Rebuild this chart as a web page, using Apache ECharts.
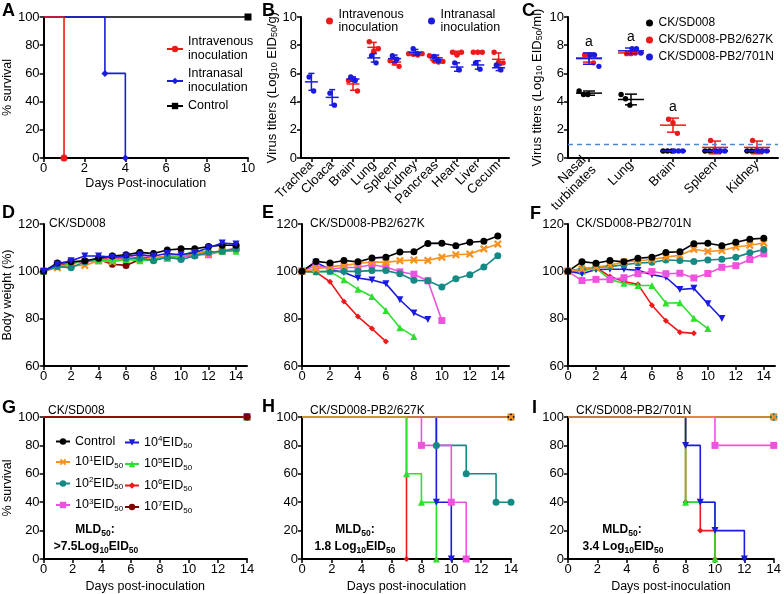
<!DOCTYPE html>
<html><head><meta charset="utf-8">
<script src="https://cdn.jsdelivr.net/npm/echarts@6/dist/echarts.min.js"></script>
<style>html,body{margin:0;padding:0;background:#fff}#c{width:784px;height:594px}</style>
</head><body><div id="c"></div>
<script>
// ---------------- DATA ----------------
// Panel A: survival change points [day, %]
const aIntravenous = [[0,100],[1,0]];
const aIntranasal  = [[0,100],[3,60],[4,0]];
const aControl     = [[0,100],[10,100]];
const aDayTicks = [0,2,4,6,8,10];

// Panel B: virus titers (log10 EID50/g)
const bCats = ['Trachea','Cloaca','Brain','Lung','Spleen','Kidney','Pancreas','Heart','Liver','Cecum'];
const bIVPts  = [null,null,[5.5,5.6,4.75],[8.25,7.6,7.75],[6.9,6.75,6.5],[7.4,7.35,7.3,7.4],[7.25,6.9,6.8,6.85],[7.5,7.3,7.5],[7.5,7.5,7.5],[7.5,6.8,6.75]];
const bIVMean = [null,null,5.25,7.85,6.8,7.4,6.95,7.45,7.5,7.0];
const bIVErr  = [null,null,0.45,0.35,0.2,0.08,0.2,0.12,0.03,0.45];
const bINPts  = [[5.75,4.75],[4.6,3.75],[5.75,5.5],[7.25,6.75],[7.25,7.0],[7.75,7.4],[7.2,6.9],[6.75,6.25],[6.75,6.3],[6.6,6.25]];
const bINMean = [5.4,4.3,5.6,7.1,7.05,7.5,7.1,6.45,6.6,6.4];
const bINErr  = [0.6,0.55,0.15,0.3,0.25,0.2,0.2,0.3,0.3,0.2];

// Panel C: virus titers (log10 EID50/ml)
const cCats = ['Nasal\nturbinates','Lung','Brain','Spleen','Kidney'];
const cWtPts   = [[4.75,4.5,4.5],[4.5,4.2,3.75],[0.5,0.5,0.5],[0.5,0.5,0.5],[0.5,0.5,0.5]];
const cWtMean  = [4.6,4.15,0.5,0.5,0.5];
const cWtErr   = [0.15,0.38,0,0,0];
const c627Pts  = [[7.3,7.3,6.75],[7.4,7.4,7.45],[2.75,2.5,1.75],[1.25,0.5,0.5],[1.25,0.5,0.5]];
const c627Mean = [7.1,7.45,2.33,0.75,0.75];
const c627Err  = [0.3,0.1,0.5,0.45,0.45];
const c701Pts  = [[7.3,7.3,6.5],[7.75,7.75,7.45],[0.5,0.5,0.5],[0.5,0.5,0.5],[0.5,0.5,0.5]];
const c701Mean = [7.05,7.6,0.5,0.5,0.5];
const c701Err  = [0.4,0.2,0,0,0];
const cSig     = ['a','a','a','',''];
const cDetectionLimit = 1;

// Panels D/E/F: body weight (%) by day 0..n
const dCtl  = [100,103.5,104,104.5,105.5,106.5,107,108,107.5,109,109.5,109.5,110.5,111,111];
const d10_1 = [100,101.5,102.5,102.5,104.5,104,105,105,105.5,106.5,106.5,108,107.5,108.5,109.5];
const d10_2 = [100,102,101.5,104,105.5,106.5,105.5,105.5,104.5,106,105,106.5,108,108.5,109.5];
const d10_3 = [100,103,104,104,104.5,105.5,106,107,106,105.5,106,107,107,108.5,110];
const d10_4 = [100,103,104.5,106.5,106.5,106,106.5,107,106.5,107.5,107,108,110,112,111.5];
const d10_5 = [100,102,103,105,104.5,104.5,105,104.5,105,106,106,109,108,108.5,108.5];
const d10_6 = [100,102.5,103.5,104,105,105.5,105,106,105.5,106.5,106,107.5,107.5,108.5,109];
const d10_7 = [100,103,104,104,105,103,102.5,105,105,106,106,107,108,108.5,109];

const eCtl  = [100,104.2,103.5,104.6,104,105.6,106,108.2,108.3,111.8,111.9,110.8,112.3,112.7,114.9];
const e10_1 = [100,101,102,102.5,103.3,104,103.8,104.5,104.8,104.6,106,107,107.3,109.5,111.5];
const e10_2 = [100,99.8,100,100,100,100.3,100.3,99,96.2,96,93.4,96.9,98.6,101.8,106.6];
const e10_3 = [100,102.5,101,101.5,101.7,102.8,101.8,99.8,98.8,96,79.2];
const e10_4 = [100,103.8,100.8,99.5,97.2,96.3,94.8,88,82.4,79.6];
const e10_5 = [100,99.8,100,96.4,92.4,89.4,83.5,76.2,72.5];
const e10_6 = [100,99.7,95.6,87.3,80.9,75.8,70.3];

const fCtl  = [100,104.1,103.4,104.6,104,105.5,106,108,108.3,111.7,111.9,110.8,112.3,113.6,114];
const f10_1 = [100,101,101.8,102.6,104,104.5,105,106,106.8,109.3,108.4,108.8,110.3,111,112];
const f10_2 = [100,101.2,101.7,102,102.8,103.5,103.8,104.8,104.6,104.2,104.8,105.1,106,107.8,109.2];
const f10_3 = [100,96.1,96.6,96.6,97.3,99,99.9,99,99.2,97.2,99.1,101.7,102.4,105,107.4];
const f10_4 = [100,99,100.8,100.9,100.9,100.4,98.6,97.5,92.3,92.8,86.3,80.1];
const f10_5 = [100,100,101.5,96.5,95,94,94,86.6,86.7,80.2,75.8];
const f10_6 = [100,100.5,101.6,97.8,95.7,94.5,85.7,79.1,74.3,73.8];
const dayTicks14 = [0,2,4,6,8,10,12,14];

// Panels G/H/I: survival change points [day, %]
const gAll  = [[0,100],[14,100]];
const hCtl  = [[0,100],[14,100]];
const h10_1 = [[0,100],[14,100]];
const h10_2 = [[0,100],[9,80],[11,60],[13,40],[14,40]];
const h10_3 = [[0,100],[8,80],[10,40],[11,0]];
const h10_4 = [[0,100],[9,40],[10,0]];
const h10_5 = [[0,100],[7,60],[8,40],[9,0]];
const h10_6 = [[0,100],[7,0]];
const iCtl  = [[0,100],[14,100]];
const i10_1 = [[0,100],[14,100]];
const i10_2 = [[0,100],[14,100]];
const i10_3 = [[0,100],[10,80],[14,80]];
const i10_4 = [[0,100],[8,80],[9,40],[10,20],[12,0]];
const i10_5 = [[0,100],[8,40],[10,0]];
const i10_6 = [[0,100],[8,40],[9,20],[10,0]];

// ---------------- STYLE ----------------
const FONT = '"Liberation Sans", Arial, sans-serif';
const crossPath = 'path://M2,0L5,3L8,0L10,2L7,5L10,8L8,10L5,7L2,10L0,8L3,5L0,2Z';
const doseStyle = {
  'Control': {color:'#000000', symbol:'circle', size:7},
  '10^1': {color:'#F7921E', symbol:crossPath, size:8},
  '10^2': {color:'#158A84', symbol:'circle', size:7},
  '10^3': {color:'#F052E0', symbol:'rect', size:7},
  '10^4': {color:'#1A1AE0', symbol:'triangle', size:7, rotate:180},
  '10^5': {color:'#2EE02E', symbol:'triangle', size:7},
  '10^6': {color:'#F01818', symbol:'diamond', size:6},
  '10^7': {color:'#800000', symbol:'circle', size:7}
};
const doseLegendText = {
  'Control':'{n|Control}',
  '10^1':'{n|10}{sup|1}{n|EID}{sub|50}',
  '10^2':'{n|10}{sup|2}{n|EID}{sub|50}',
  '10^3':'{n|10}{sup|3}{n|EID}{sub|50}',
  '10^4':'{n|10}{sup|4}{n|EID}{sub|50}',
  '10^5':'{n|10}{sup|5}{n|EID}{sub|50}',
  '10^6':'{n|10}{sup|6}{n|EID}{sub|50}',
  '10^7':'{n|10}{sup|7}{n|EID}{sub|50}'
};
const RED = '#F01818', BLUE = '#1A1AE0';

const grids = [
  {left:41,  top:17,  width:207, height:141}, // A
  {left:301, top:17,  width:208, height:141}, // B
  {left:568, top:17,  width:210, height:141}, // C
  {left:40,  top:224, width:207, height:142}, // D
  {left:302, top:224, width:207, height:142}, // E
  {left:568, top:224, width:207, height:142}, // F
  {left:40,  top:417, width:207, height:142}, // G
  {left:302, top:417, width:209, height:142}, // H
  {left:568, top:417, width:208, height:142}  // I
];

const axLine = {show:true, onZero:false, lineStyle:{color:'#000', width:2}};
const axTick = {show:true, length:4, lineStyle:{color:'#000', width:1.5}};
const axLabel = {color:'#000', fontSize:13, fontFamily:FONT, margin:4};
const subRich = {s:{fontSize:9, fontFamily:FONT, verticalAlign:'bottom', color:'#000'}};

function xVal(gi, min, max, ticks, name, gap) {
  return {gridIndex:gi, type:'value', min, max, splitLine:{show:false},
    axisLine:axLine, axisTick:{...axTick, customValues:ticks},
    axisLabel:{...axLabel, customValues:ticks},
    name:name||'', nameLocation:'middle', nameGap:gap||20,
    nameTextStyle:{fontSize:12.5, fontFamily:FONT, color:'#000'}};
}
function yVal(gi, min, max, interval, name, gap, fs) {
  return {gridIndex:gi, type:'value', min, max, interval, splitLine:{show:false},
    axisLine:axLine, axisTick:axTick, axisLabel:axLabel,
    name:name||'', nameLocation:'middle', nameGap:gap||20,
    nameTextStyle:{fontSize:fs||13, fontFamily:FONT, color:'#000', rich:subRich}};
}
function xCat(gi, cats) {
  return {gridIndex:gi, type:'category', data:cats, boundaryGap:true,
    axisLine:axLine, axisTick:{...axTick, alignWithLabel:true},
    axisLabel:{...axLabel, fontSize:13, rotate:45, interval:0, margin:5, lineHeight:14}};
}

// ---------------- SERIES BUILDERS ----------------
function weightSeries(gi, key, arr, z) {
  const st = doseStyle[key];
  return {type:'line', name:key, xAxisIndex:gi, yAxisIndex:gi,
    data: arr.map((v,i)=>[i,v]), symbol:st.symbol, symbolSize:st.size,
    symbolRotate:st.rotate||0, showAllSymbol:true, clip:false,
    itemStyle:{color:st.color}, lineStyle:{color:st.color, width:1.6}, z:z||2};
}
function survSeries(gi, name, pts, st, z) {
  return {type:'line', name, xAxisIndex:gi, yAxisIndex:gi, step:'end',
    data: pts.map((p,k)=> k===0 ? {value:p, symbol:'none'} : {value:p}),
    symbol:st.symbol, symbolSize:st.size, symbolRotate:st.rotate||0,
    showAllSymbol:true, clip:false,
    itemStyle:{color:st.color}, lineStyle:{color:st.color, width:1.6}, z:z||2};
}
function dotSeries(gi, name, color, pts, means, errs, cfg) {
  const items = [], itemPts = [];
  means.forEach((m,i)=>{ if (m!=null) { items.push([i, m, m+errs[i], m-errs[i]]); itemPts.push(pts[i]); } });
  return {type:'custom', name, xAxisIndex:gi, yAxisIndex:gi, clip:false,
    itemStyle:{color}, data:items, z:cfg.z||3,
    renderItem(params, api) {
      const pv = itemPts[params.dataIndex];
      const ci = api.value(0);
      const c = api.coord([ci, api.value(1)]);
      const top = api.coord([ci, api.value(2)]);
      const bot = api.coord([ci, api.value(3)]);
      const x = c[0];
      const ls = {stroke:color, lineWidth:cfg.lw, fill:null};
      const L = (x1,y1,x2,y2)=>({type:'line', shape:{x1,y1,x2,y2}, style:ls});
      const ch = [
        L(x-cfg.mw/2, c[1], x+cfg.mw/2, c[1]),
        L(x, top[1], x, bot[1]),
        L(x-cfg.cw/2, top[1], x+cfg.cw/2, top[1]),
        L(x-cfg.cw/2, bot[1], x+cfg.cw/2, bot[1])
      ];
      pv.forEach((v,k)=>{
        const p = api.coord([ci, v]);
        ch.push({type:'circle', shape:{cx:x + cfg.shift + (k-(pv.length-1)/2)*cfg.jit, cy:p[1], r:cfg.r}, style:{fill:color}});
      });
      return {type:'group', children:ch};
    }};
}

// ---------------- BUILD ----------------
const series = [];
// A
series.push(survSeries(0, 'Control ', aControl, {color:'#000', symbol:'rect', size:7}, 2));
series.push(survSeries(0, 'Intranasal\ninoculation', aIntranasal, {color:'#1A1AE0', symbol:'diamond', size:7}, 3));
series.push(survSeries(0, 'Intravenous\ninoculation', aIntravenous, {color:'#F01818', symbol:'circle', size:7}, 4));
// B
const bCfg = {lw:1.5, mw:13, cw:6, jit:4.5, shift:0, r:2.7};
series.push(dotSeries(1, 'IV', RED, bIVPts, bIVMean, bIVErr, bCfg));
series.push(dotSeries(1, 'IN', BLUE, bINPts, bINMean, bINErr, {...bCfg, z:4}));
// C
const cCfg = {lw:1.5, mw:26, cw:12, jit:4.4, shift:0, r:2.7};
const cWt = dotSeries(2, 'CK/SD008', '#000', cWtPts, cWtMean, cWtErr, {...cCfg, shift:-5.5});
cWt.markLine = {silent:true, symbol:['none','none'], label:{show:false},
  lineStyle:{type:[5,4], color:'#4F86D0', width:1.4}, data:[{yAxis:cDetectionLimit}]};
series.push(cWt);
series.push(dotSeries(2, 'CK/SD008-PB2/627K', RED, c627Pts, c627Mean, c627Err, {...cCfg, z:4}));
series.push(dotSeries(2, 'CK/SD008-PB2/701N', BLUE, c701Pts, c701Mean, c701Err, {...cCfg, shift:5.5, z:5}));
// significance labels
const sigItems = [];
cSig.forEach((s,i)=>{ if (s) sigItems.push([i, Math.max(c627Mean[i]+c627Err[i], c701Mean[i]+c701Err[i])]); });
series.push({type:'custom', xAxisIndex:2, yAxisIndex:2, data:sigItems, clip:false, z:6,
  renderItem(params, api){
    const p = api.coord([api.value(0), api.value(1)]);
    return {type:'text', style:{text:cSig[api.value(0)], x:p[0], y:p[1]-11, align:'center', verticalAlign:'middle', fontSize:14, fontFamily:FONT, fill:'#000'}};
  }});
// D
const dSets = [['Control',dCtl],['10^1',d10_1],['10^2',d10_2],['10^3',d10_3],['10^4',d10_4],['10^5',d10_5],['10^6',d10_6],['10^7',d10_7]];
const dOrder = ['10^7','10^6','10^3','10^1','10^5','10^2','Control','10^4'];
dOrder.forEach((k,j)=>{ const s = dSets.find(d=>d[0]===k); series.push(weightSeries(3, k, s[1], 2+j*0.01)); });
// E
[['10^6',e10_6],['10^5',e10_5],['10^4',e10_4],['10^3',e10_3],['10^2',e10_2],['10^1',e10_1],['Control',eCtl]]
  .forEach(([k,a])=>series.push(weightSeries(4, k, a)));
// F
[['10^6',f10_6],['10^5',f10_5],['10^4',f10_4],['10^3',f10_3],['10^2',f10_2],['10^1',f10_1],['Control',fCtl]]
  .forEach(([k,a])=>series.push(weightSeries(5, k, a)));
// G
['Control','10^1','10^2','10^3','10^4','10^5','10^6','10^7'].forEach(k=>series.push(survSeries(6, k, gAll, doseStyle[k])));
// H
[['Control',hCtl],['10^2',h10_2],['10^3',h10_3],['10^6',h10_6],['10^4',h10_4],['10^5',h10_5],['10^1',h10_1]]
  .forEach(([k,a])=>series.push(survSeries(7, k, a, doseStyle[k])));
// I
[['Control',iCtl],['10^2',i10_2],['10^3',i10_3],['10^6',i10_6],['10^5',i10_5],['10^4',i10_4],['10^1',i10_1]]
  .forEach(([k,a])=>series.push(survSeries(8, k, a, doseStyle[k])));

const xAxes = [
  xVal(0, 0, 10, aDayTicks, 'Days Post-inoculation', 19),
  xCat(1, bCats),
  xCat(2, cCats),
  xVal(3, 0, 14.8, dayTicks14),
  xVal(4, 0, 14.8, dayTicks14),
  xVal(5, 0, 14.8, dayTicks14),
  xVal(6, 0, 14, dayTicks14, 'Days post-inoculation', 21),
  xVal(7, 0, 14, dayTicks14, 'Days post-inoculation', 21),
  xVal(8, 0, 14, dayTicks14, 'Days post-inoculation', 21)
];
const yAxes = [
  yVal(0, 0, 100, 20, '% survival', 26, 12.5),
  yVal(1, 0, 10, 2, 'Virus titers (Log{s|10} EID{s|50}/g)', 19),
  yVal(2, 0, 10, 2, 'Virus titers (Log{s|10} EID{s|50}/ml)', 24),
  yVal(3, 60, 120, 20, 'Body weight (%)', 27, 12.5),
  yVal(4, 60, 120, 20),
  yVal(5, 60, 120, 20),
  yVal(6, 0, 100, 20, '% survival', 27, 12.5),
  yVal(7, 0, 100, 20),
  yVal(8, 0, 100, 20)
];

const legRich = {
  n:{fontSize:12.5, fontFamily:FONT, color:'#000', lineHeight:15},
  sup:{fontSize:8, fontFamily:FONT, color:'#000', verticalAlign:'top'},
  sub:{fontSize:8, fontFamily:FONT, color:'#000', verticalAlign:'bottom'}
};
const legends = [
  {orient:'vertical', left:166, top:35, padding:0, itemGap:4, itemWidth:16, itemHeight:8,
   data:['Intravenous\ninoculation','Intranasal\ninoculation','Control '],
   textStyle:{fontSize:12.5, fontFamily:FONT, color:'#000', lineHeight:14}, selectedMode:false},
  {orient:'horizontal', left:326, top:8, padding:0, itemWidth:8, itemHeight:7, itemGap:5,
   data:[{name:'IV', icon:'circle'}],
   formatter:()=> 'Intravenous\ninoculation',
   textStyle:{fontSize:12.5, fontFamily:FONT, color:'#000', lineHeight:13}, selectedMode:false},
  {orient:'horizontal', left:428, top:8, padding:0, itemWidth:8, itemHeight:7, itemGap:5,
   data:[{name:'IN', icon:'circle'}],
   formatter:()=> 'Intranasal\ninoculation',
   textStyle:{fontSize:12.5, fontFamily:FONT, color:'#000', lineHeight:13}, selectedMode:false},
  {orient:'vertical', left:646, top:16, padding:0, itemWidth:8, itemHeight:7, itemGap:3,
   data:[{name:'CK/SD008',icon:'circle'},{name:'CK/SD008-PB2/627K',icon:'circle'},{name:'CK/SD008-PB2/701N',icon:'circle'}],
   textStyle:{fontSize:12, fontFamily:FONT, color:'#000', lineHeight:14}, selectedMode:false},
  {orient:'vertical', left:55, top:435, padding:0, itemGap:6.5, itemWidth:14, itemHeight:8,
   data:['Control','10^1','10^2','10^3'], formatter:n=>doseLegendText[n],
   textStyle:{rich:legRich}, selectedMode:false},
  {orient:'vertical', left:124, top:435, padding:0, itemGap:6.5, itemWidth:14, itemHeight:8,
   data:['10^4','10^5','10^6','10^7'], formatter:n=>doseLegendText[n],
   textStyle:{rich:legRich}, selectedMode:false}
];

const mldRich = {
  b:{fontSize:12, fontWeight:'bold', fontFamily:FONT, color:'#000', lineHeight:16},
  s:{fontSize:8.5, fontWeight:'bold', fontFamily:FONT, color:'#000', verticalAlign:'bottom'}
};
function txt(text, x, y, opts) {
  return {type:'text', x, y, silent:true, style:Object.assign({text, fill:'#000', fontFamily:FONT, fontSize:12, align:'left', verticalAlign:'middle'}, opts||{})};
}
const graphic = [
  txt('A', 2, 11, {fontSize:18, fontWeight:'bold'}),
  txt('B', 262, 11, {fontSize:18, fontWeight:'bold'}),
  txt('C', 522, 11, {fontSize:18, fontWeight:'bold'}),
  txt('D', 2, 213, {fontSize:18, fontWeight:'bold'}),
  txt('E', 262, 213, {fontSize:18, fontWeight:'bold'}),
  txt('F', 530, 214, {fontSize:18, fontWeight:'bold'}),
  txt('G', 2, 408, {fontSize:18, fontWeight:'bold'}),
  txt('H', 262, 407, {fontSize:18, fontWeight:'bold'}),
  txt('I', 532, 408, {fontSize:18, fontWeight:'bold'}),
  txt('CK/SD008', 49, 224),
  txt('CK/SD008-PB2/627K', 310, 224),
  txt('CK/SD008-PB2/701N', 576, 224),
  txt('CK/SD008', 48, 411),
  txt('CK/SD008-PB2/627K', 310, 411),
  txt('CK/SD008-PB2/701N', 576, 411),
  txt('{b|MLD}{s|50}{b|:}', 95, 530, {align:'center', rich:mldRich}),
  txt('{b|>7.5Log}{s|10}{b|EID}{s|50}', 96, 547, {align:'center', rich:mldRich}),
  txt('{b|MLD}{s|50}{b|:}', 355, 530, {align:'center', rich:mldRich}),
  txt('{b|1.8 Log}{s|10}{b|EID}{s|50}', 355, 547, {align:'center', rich:mldRich}),
  txt('{b|MLD}{s|50}{b|:}', 622, 530, {align:'center', rich:mldRich}),
  txt('{b|3.4 Log}{s|10}{b|EID}{s|50}', 623, 547, {align:'center', rich:mldRich})
];

const chart = echarts.init(document.getElementById('c'), null, {renderer:'canvas'});
chart.setOption({
  animation:false, backgroundColor:'#fff',
  textStyle:{fontFamily:FONT},
  grid:grids, xAxis:xAxes, yAxis:yAxes, series, legend:legends, graphic
});
</script></body></html>
